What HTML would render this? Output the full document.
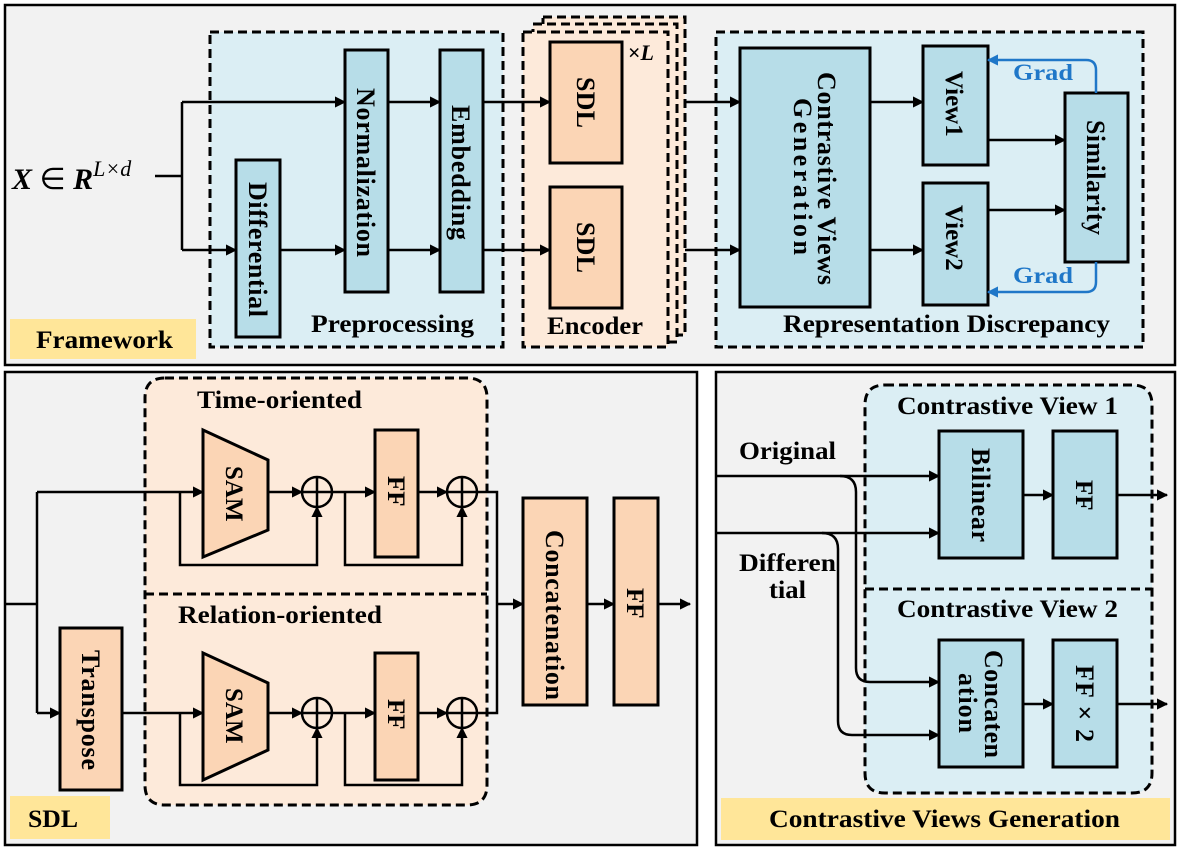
<!DOCTYPE html>
<html><head><meta charset="utf-8"><style>
body{margin:0;background:#fff}
svg{display:block}
text{font-family:"Liberation Serif",serif;font-weight:bold;fill:#000}
</style></head><body>
<svg width="1183" height="851" viewBox="0 0 1183 851" xmlns="http://www.w3.org/2000/svg">
<defs>
<marker id="a" viewBox="0 0 10 10" refX="9" refY="5" markerWidth="4.5" markerHeight="4.5" orient="auto" markerUnits="strokeWidth"><path d="M0,0L10,5L0,10z" fill="#000"/></marker>
<marker id="b" viewBox="0 0 10 10" refX="9" refY="5" markerWidth="4.5" markerHeight="4.5" orient="auto" markerUnits="strokeWidth"><path d="M0,0L10,5L0,10z" fill="#1f77c8"/></marker>
</defs>
<g stroke="#000" stroke-width="2.5">
<rect x="5" y="5" width="1170" height="360" fill="#f2f2f2"/>
<rect x="5" y="372" width="692" height="473" fill="#f2f2f2"/>
<rect x="716" y="372" width="459" height="473" fill="#f2f2f2"/>
</g>
<rect x="10" y="319" width="186" height="40" fill="#ffe699"/>
<rect x="10" y="796" width="100" height="43" fill="#ffe699"/>
<rect x="721" y="798" width="449" height="42" fill="#ffe699"/>
<text x="36" y="348" font-size="25" textLength="137" lengthAdjust="spacingAndGlyphs">Framework</text>
<text x="28" y="827" font-size="25" textLength="50" lengthAdjust="spacingAndGlyphs">SDL</text>
<text x="769" y="827" font-size="25" textLength="351" lengthAdjust="spacingAndGlyphs">Contrastive Views Generation</text>

<g stroke="#000" stroke-width="3" stroke-dasharray="9,5">
<rect x="210" y="32" width="293" height="315" fill="#dbeef4"/>
<rect x="543" y="17" width="142" height="318" fill="#fdeada"/>
<rect x="533" y="24" width="144" height="318" fill="#fdeada"/>
<rect x="523" y="32" width="145" height="315" fill="#fdeada"/>
<rect x="716" y="32" width="427" height="315" fill="#dbeef4"/>
</g>
<g stroke="#000" stroke-width="3">
<rect x="236" y="160" width="44" height="177" fill="#b7dde8"/>
<rect x="345" y="50" width="43" height="242" fill="#b7dde8"/>
<rect x="440" y="50" width="43" height="242" fill="#b7dde8"/>
<rect x="550" y="42" width="72" height="121" fill="#fbd5b5"/>
<rect x="550" y="187" width="72" height="121" fill="#fbd5b5"/>
<rect x="740" y="48" width="130" height="259" fill="#b7dde8"/>
<rect x="923" y="46" width="65" height="119" fill="#b7dde8"/>
<rect x="923" y="183" width="65" height="122" fill="#b7dde8"/>
<rect x="1065" y="93" width="63" height="169" fill="#b7dde8"/>
</g>
<g stroke="#000" stroke-width="2.5" fill="none">
<path d="M155,176H182M182,102V250"/>
<path d="M182,102H345" marker-end="url(#a)"/>
<path d="M182,250H236" marker-end="url(#a)"/>
<path d="M280,250H345" marker-end="url(#a)"/>
<path d="M388,102H440" marker-end="url(#a)"/>
<path d="M388,250H440" marker-end="url(#a)"/>
<path d="M483,102H550" marker-end="url(#a)"/>
<path d="M483,250H550" marker-end="url(#a)"/>
<path d="M685,102H740" marker-end="url(#a)"/>
<path d="M685,250H740" marker-end="url(#a)"/>
<path d="M870,102H923" marker-end="url(#a)"/>
<path d="M870,250H923" marker-end="url(#a)"/>
<path d="M988,140H1065" marker-end="url(#a)"/>
<path d="M988,210H1065" marker-end="url(#a)"/>
</g>
<g stroke="#1f77c8" stroke-width="2.5" fill="none">
<path d="M1096,93V70Q1096,60 1086,60H988" marker-end="url(#b)"/>
<path d="M1096,262V282Q1096,292 1086,292H988" marker-end="url(#b)"/>
</g>
<text x="1013" y="80" font-size="23" style="fill:#1f77c8" textLength="60" lengthAdjust="spacingAndGlyphs">Grad</text>
<text x="1013" y="283" font-size="23" style="fill:#1f77c8" textLength="60" lengthAdjust="spacingAndGlyphs">Grad</text>
<text x="12" y="189" font-size="30" font-style="italic">X <tspan font-style="normal" font-weight="normal">∈</tspan> R<tspan font-size="22" dy="-13" font-weight="normal">L×d</tspan></text>
<text x="628" y="60" font-size="22">×<tspan font-style="italic">L</tspan></text>
<text x="311" y="332" font-size="25" textLength="163" lengthAdjust="spacingAndGlyphs">Preprocessing</text>
<text x="547" y="334" font-size="25" textLength="96" lengthAdjust="spacingAndGlyphs">Encoder</text>
<text x="783" y="332" font-size="25" textLength="327" lengthAdjust="spacingAndGlyphs">Representation Discrepancy</text>
<g font-size="26" lengthAdjust="spacingAndGlyphs">
<text transform="translate(249,182) rotate(90)" textLength="135">Differential</text>
<text transform="translate(357,88) rotate(90)" textLength="169">Normalization</text>
<text transform="translate(452,105) rotate(90)" textLength="135">Embedding</text>
<text transform="translate(577,77) rotate(90)" textLength="51">SDL</text>
<text transform="translate(577,222) rotate(90)" textLength="51">SDL</text>
<text transform="translate(818,72) rotate(90)" textLength="213">Contrastive Views</text>
<text transform="translate(794,98) rotate(90)" textLength="157">Generation</text>
<text transform="translate(946,71) rotate(90)" font-size="25">View1</text>
<text transform="translate(946,205) rotate(90)" font-size="25">View2</text>
<text transform="translate(1087,120) rotate(90)" textLength="115">Similarity</text>
</g>

<g stroke="#000" stroke-width="3" stroke-dasharray="9,5" fill="#fdeada">
<path d="M165,378H467Q487,378 487,398V785Q487,805 467,805H165Q145,805 145,785V398Q145,378 165,378Z"/>
<path d="M145,594H487" fill="none"/>
</g>
<text x="197" y="408" font-size="25" textLength="165" lengthAdjust="spacingAndGlyphs">Time-oriented</text>
<text x="178" y="623" font-size="25" textLength="204" lengthAdjust="spacingAndGlyphs">Relation-oriented</text>
<g stroke="#000" stroke-width="3">
<rect x="60" y="628" width="62" height="162" fill="#fbd5b5"/>
<path d="M203,430L268,460V530L203,557Z" fill="#fbd5b5"/>
<path d="M203,653L268,683V750L203,780Z" fill="#fbd5b5"/>
<rect x="375" y="430" width="43" height="127" fill="#fbd5b5"/>
<rect x="375" y="653" width="43" height="127" fill="#fbd5b5"/>
<rect x="523" y="498" width="64" height="207" fill="#fbd5b5"/>
<rect x="614" y="498" width="44" height="207" fill="#fbd5b5"/>
</g>
<g stroke="#000" stroke-width="2.5" fill="none">
<circle cx="317" cy="492" r="15"/><path d="M302,492H332M317,477V507"/>
<circle cx="462" cy="492" r="15"/><path d="M447,492H477M462,477V507"/>
<circle cx="317" cy="713" r="15"/><path d="M302,713H332M317,698V728"/>
<circle cx="462" cy="713" r="15"/><path d="M447,713H477M462,698V728"/>
<path d="M5,604H37M37,492V713"/>
<path d="M37,492H203" marker-end="url(#a)"/>
<path d="M37,713H60" marker-end="url(#a)"/>
<path d="M122,713H203" marker-end="url(#a)"/>
<path d="M268,492H302" marker-end="url(#a)"/>
<path d="M268,713H302" marker-end="url(#a)"/>
<path d="M180,492V565H317V507" marker-end="url(#a)"/>
<path d="M180,713V785H317V728" marker-end="url(#a)"/>
<path d="M332,492H375" marker-end="url(#a)"/>
<path d="M332,713H375" marker-end="url(#a)"/>
<path d="M418,492H447" marker-end="url(#a)"/>
<path d="M418,713H447" marker-end="url(#a)"/>
<path d="M345,492V565H462V507" marker-end="url(#a)"/>
<path d="M345,713V785H462V728" marker-end="url(#a)"/>
<path d="M477,492H497V713H477"/>
<path d="M497,604H523" marker-end="url(#a)"/>
<path d="M587,604H614" marker-end="url(#a)"/>
<path d="M658,604H690" marker-end="url(#a)"/>
</g>
<g font-size="26" lengthAdjust="spacingAndGlyphs">
<text transform="translate(82,650) rotate(90)" textLength="120">Transpose</text>
<text transform="translate(226,466) rotate(90)" font-size="25">SAM</text>
<text transform="translate(226,688) rotate(90)" font-size="25">SAM</text>
<text transform="translate(388,476) rotate(90)" font-size="25">FF</text>
<text transform="translate(388,699) rotate(90)" font-size="25">FF</text>
<text transform="translate(546,530) rotate(90)" textLength="170">Concatenation</text>
<text transform="translate(627,588) rotate(90)" font-size="25">FF</text>
</g>

<g stroke="#000" stroke-width="3" stroke-dasharray="9,5" fill="#dbeef4">
<path d="M885,385H1132Q1152,385 1152,405V773Q1152,793 1132,793H885Q865,793 865,773V405Q865,385 885,385Z"/>
<path d="M865,589H1152" fill="none"/>
</g>
<text x="897" y="414" font-size="25" textLength="221" lengthAdjust="spacingAndGlyphs">Contrastive View 1</text>
<text x="897" y="617" font-size="25" textLength="221" lengthAdjust="spacingAndGlyphs">Contrastive View 2</text>
<g stroke="#000" stroke-width="3" fill="#b7dde8">
<rect x="939" y="431" width="84" height="127"/>
<rect x="1053" y="431" width="64" height="127"/>
<rect x="939" y="640" width="84" height="127"/>
<rect x="1053" y="640" width="64" height="127"/>
</g>
<g stroke="#000" stroke-width="2.5" fill="none">
<path d="M716,476H939" marker-end="url(#a)"/>
<path d="M716,533H939" marker-end="url(#a)"/>
<path d="M840,476Q856,476 856,492V668Q856,682 870,682H939" marker-end="url(#a)"/>
<path d="M822,533Q838,533 838,549V721Q838,735 852,735H939" marker-end="url(#a)"/>
<path d="M1023,495H1053" marker-end="url(#a)"/>
<path d="M1023,704H1053" marker-end="url(#a)"/>
<path d="M1117,495H1167" marker-end="url(#a)"/>
<path d="M1117,704H1167" marker-end="url(#a)"/>
</g>
<text x="739" y="459" font-size="25" textLength="97" lengthAdjust="spacingAndGlyphs">Original</text>
<text x="739" y="571" font-size="25" textLength="97" lengthAdjust="spacingAndGlyphs">Differen</text>
<text x="769" y="598" font-size="25" textLength="37" lengthAdjust="spacingAndGlyphs">tial</text>
<g font-size="26" lengthAdjust="spacingAndGlyphs">
<text transform="translate(972,448) rotate(90)" textLength="94">Bilinear</text>
<text transform="translate(1076,480) rotate(90)" font-size="25">FF</text>
<text transform="translate(985,650) rotate(90)" textLength="108">Concaten</text>
<text transform="translate(959,673) rotate(90)" textLength="60">ation</text>
<text transform="translate(1076,665) rotate(90)" textLength="77">FF × 2</text>
</g>
</svg>
</body></html>
